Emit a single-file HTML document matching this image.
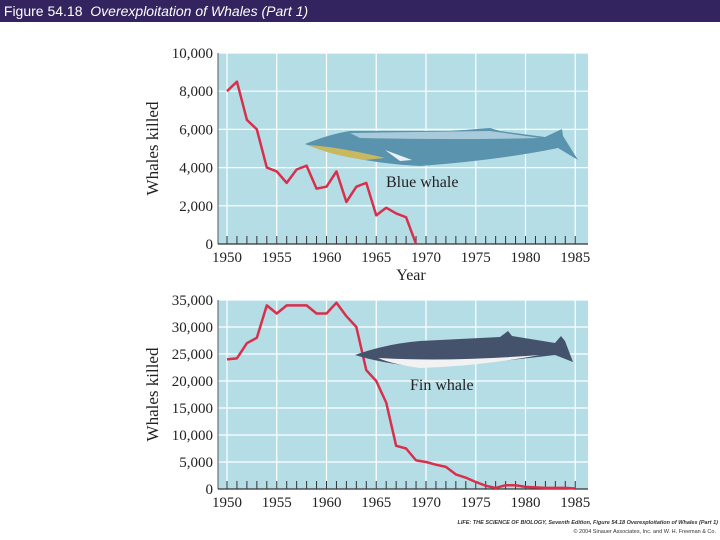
<!DOCTYPE html>
<html><head><meta charset="utf-8"><style>
body{margin:0;width:720px;height:540px;background:#fff;overflow:hidden;font-family:"Liberation Sans",sans-serif}
#hdr{position:absolute;left:0;top:0;width:720px;height:22px;background:#33235f;color:#fff;font-size:14px;line-height:22px}
svg{position:absolute;left:0;top:0}
.t{font-family:"Liberation Serif",serif;fill:#222}
</style></head><body>
<div id="hdr">&nbsp;Figure 54.18&nbsp; <i>Overexploitation of Whales (Part 1)</i></div>
<svg id="c" width="720" height="540"></svg>
<script>
const years=[1950,1951,1952,1953,1954,1955,1956,1957,1958,1959,1960,1961,1962,1963,1964,1965,1966,1967,1968,1969,1970,1971,1972,1973,1974,1975,1976,1977,1978,1979,1980,1981,1982,1983,1984,1985];
const blueValues=[8000,8500,6500,6000,4000,3800,3200,3900,4100,2900,3000,3800,2200,3000,3200,1500,1900,1600,1400,0];
const finValues=[24000,24200,27000,28000,34000,32500,34000,34000,34000,32500,32500,34500,32000,30000,22000,20000,16000,8000,7500,5300,5000,4500,4100,2700,2100,1300,600,200,700,700,400,300,200,200,200,100];
const blueTicks=[0,2000,4000,6000,8000,10000];
const finTicks=[0,5000,10000,15000,20000,25000,30000,35000];
const xTicks=[1950,1955,1960,1965,1970,1975,1980,1985];
const NS="http://www.w3.org/2000/svg",svg=document.getElementById('c');
function mk(t,a,p){const e=document.createElementNS(NS,t);for(const k in a)e.setAttribute(k,a[k]);(p||svg).appendChild(e);return e;}
const X=y=>227+(y-1950)*9.95;
function chart(name,top,bottom,max,ticks,vals){
 const Y=v=>bottom-(v/max)*(bottom-top);
 const g=mk('g',{});
 
 
 const bg=mk('rect',{x:218,y:top,width:370,height:bottom-top,fill:'#b5dde6'},g);
 
 
 ticks.forEach(v=>{if(v>0)mk('line',{x1:218,x2:588,y1:Y(v),y2:Y(v),stroke:'#fff','stroke-width':1.2},g);
  const t=mk('text',{x:213,y:Y(v)+5,'text-anchor':'end','font-size':15,class:'t'},g);t.textContent=v.toLocaleString('en-US');
  
  });
 xTicks.forEach(y=>{mk('line',{x1:X(y),x2:X(y),y1:top,y2:bottom,stroke:'#fff','stroke-width':1.2},g);
  const t=mk('text',{x:X(y),y:bottom+18,'text-anchor':'middle','font-size':15,class:'t'},g);t.textContent=y;
  
  });
 mk('line',{x1:218,x2:218,y1:top,y2:bottom,stroke:'#555','stroke-width':1},g);
 mk('line',{x1:218,x2:588,y1:bottom,y2:bottom,stroke:'#333','stroke-width':1.2},g);
 years.forEach(y=>mk('line',{x1:X(y),x2:X(y),y1:bottom-8,y2:bottom,stroke:'#333','stroke-width':1},g));
 const yl=mk('text',{x:0,y:0,transform:`translate(158,${(top+bottom)/2}) rotate(-90)`,'text-anchor':'middle','font-size':17,class:'t'},g);yl.textContent='Whales killed';
 
 
 const line=mk('polyline',{points:vals.map((v,i)=>X(years[i])+','+Y(v)).join(' '),fill:'none',stroke:'#d8304c','stroke-width':2.5,'stroke-linejoin':'round'},g);
 
 
 return g;
}
chart('blue-whale-chart',53,244,10000,blueTicks,blueValues);
chart('fin-whale-chart',300,489,35000,finTicks,finValues);
const bw=mk('g',{});


mk('path',{d:'M305,144 Q330,134 350,131 L450,131 L490,128 L500,131 L545,137 L562,129 L563,136 L578,160 L558,148 Q500,160 420,166 Q350,162 305,144Z',fill:'#5a93ad'},bw);
mk('path',{d:'M350,133 L490,131 L540,138 Q450,140 360,138Z',fill:'#a9cadb'},bw);
mk('path',{d:'M308,145 Q340,147 385,158 L365,160 Q330,155 308,145Z',fill:'#c8b860'},bw);
mk('path',{d:'M385,150 L412,160 L400,161Z',fill:'#e8f2f6'},bw);
const bl=mk('text',{x:386,y:187,'font-size':16,class:'t'});bl.textContent='Blue whale';


const fw=mk('g',{});


mk('path',{d:'M355,355 Q385,344 420,341 L500,337 L508,331 L512,336 L555,343 L561,336 L565,341 L573,362 L555,355 Q480,364 420,367 Q380,363 355,355Z',fill:'#45526b'},fw);
mk('path',{d:'M378,358 Q450,362 540,355 Q480,366 420,368 Q392,364 378,358Z',fill:'#f2f2f2'},fw);
const fl=mk('text',{x:410,y:390,'font-size':16,class:'t'});fl.textContent='Fin whale';


const xt=mk('text',{x:411,y:280,'text-anchor':'middle','font-size':16,class:'t'});xt.textContent='Year';


const c1=mk('text',{x:718,y:524,'text-anchor':'end','font-size':5.5,'font-style':'italic','font-weight':'bold',fill:'#333'});c1.textContent='LIFE: THE SCIENCE OF BIOLOGY, Seventh Edition, Figure 54.18 Overexploitation of Whales (Part 1)';


const c2=mk('text',{x:716,y:533,'text-anchor':'end','font-size':5.5,fill:'#333'});c2.textContent='© 2004 Sinauer Associates, Inc. and W. H. Freeman & Co.';


</script>
</body></html>
